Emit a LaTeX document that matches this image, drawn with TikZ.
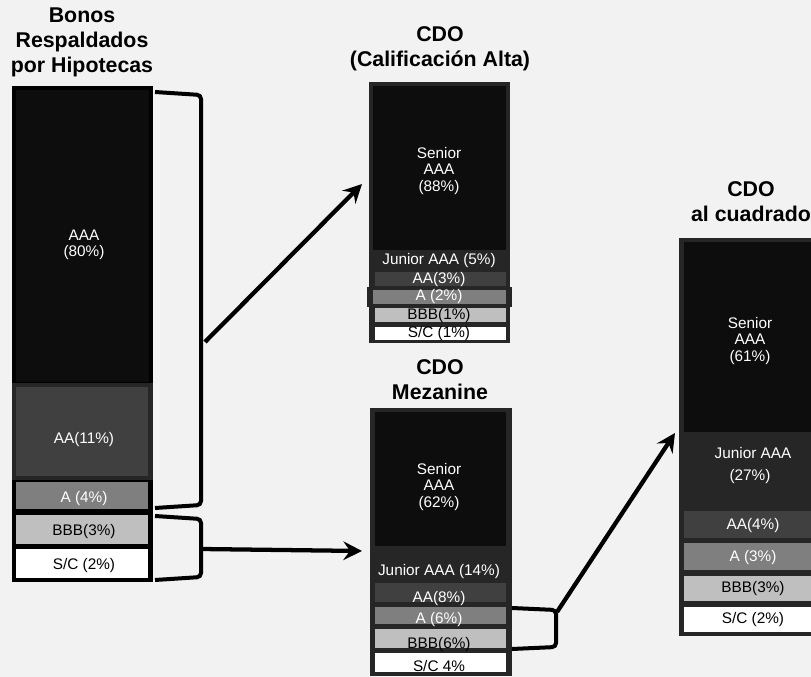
\documentclass[tikz,border=0pt]{standalone}
\usepackage{fontspec}
\setmainfont{Liberation Sans}
\usetikzlibrary{arrows.meta}
\definecolor{fondo}{HTML}{F2F2F2}
\definecolor{marco}{HTML}{262626}
\definecolor{capaAAA}{HTML}{0D0D0D}
\definecolor{capaAA}{HTML}{404040}
\definecolor{capaA}{HTML}{7F7F7F}
\definecolor{capaBBB}{HTML}{BFBFBF}

\begin{document}
\begin{tikzpicture}[x=0.75pt,y=-0.75pt,
	lblw/.style={text=white,font=\fontsize{11.5}{12.4}\selectfont,align=center,inner sep=0pt},
	lblb/.style={lblw,text=black},
	titulo/.style={font=\fontsize{16}{18.75}\bfseries\selectfont,align=center,inner sep=0pt},
	llave/.style={line width=3pt,rounded corners=3pt},
	flecha/.style={line width=3.2pt,-{Stealth[length=14pt,width=14pt,inset=5pt]}}]
	\clip (0,0) rectangle (811,677);
	\fill[fondo] (0,0) rectangle (811,677);
	
	% Bonos respaldados por hipotecas
	\node[titulo] (tBonos) at (82,42) {Bonos\\Respaldados\\por Hipotecas};
	\fill[black] (12,86) rectangle (153,582);
	\fill[capaAAA] (16,90) rectangle (149,382);
	\fill[marco] (12,383) rectangle (153,480);
	\fill[capaAA] (16,387) rectangle (148,476);
	\fill[capaA] (16,482) rectangle (148,509);
	\fill[capaBBB] (16,515) rectangle (148,544);
	\fill[white] (16,549) rectangle (148,578);
	\node[lblw] (bAAA) at (84,245) {AAA\\(80\%)};
	\node[lblw] (bAA) at (84,440) {AA(11\%)};
	\node[lblw] (bA) at (84,499) {A (4\%)};
	\node[lblb] (bBBB) at (84,532) {BBB(3\%)};
	\node[lblb] (bSC) at (84,566) {S/C (2\%)};
	
	\draw[llave] (155,92) -- (201,95) -- (201,505) -- (155,508);
	\draw[llave] (155,516) -- (201,519) -- (201,577) -- (155,580);
	
	% CDO calificacion alta
	\node[titulo] (tAlta) at (440,49) {CDO\\(Calificación Alta)};
	\fill[marco] (369,82) rectangle (510,343);
	\fill[capaAAA] (373,86) rectangle (506,250);
	\fill[capaAA] (375,272) rectangle (506,286);
	\fill[marco] (367,287) rectangle (512,307);
	\fill[capaA] (373,290) rectangle (506,304);
	\fill[capaBBB] (375,308) rectangle (506,322);
	\fill[white] (375,327) rectangle (506,340);
	\node[lblw] (aSen) at (439,171) {Senior\\AAA\\(88\%)};
	\node[lblw] (aJun) at (439,261) {Junior AAA (5\%)};
	\node[lblw] (aAA) at (439,280) {AA(3\%)};
	\node[lblw] (aA) at (439,297) {A (2\%)};
	\node[lblb] (aBBB) at (439,316) {BBB(1\%)};
	\node[lblb] (aSC) at (439,334) {S/C (1\%)};
	
	% CDO mezanine
	\node[titulo] (tMez) at (440,380) {CDO\\Mezanine};
	\fill[marco] (370,408) rectangle (512,676);
	\fill[capaAAA] (375,412) rectangle (506,546);
	\fill[capaAA] (375,583) rectangle (506,602);
	\fill[capaA] (375,607) rectangle (506,624);
	\fill[capaBBB] (375,629) rectangle (506,648);
	\fill[white] (375,653) rectangle (506,672);
	\node[lblw] (mSen) at (439,487) {Senior\\AAA\\(62\%)};
	\node[lblw] (mJun) at (439,572) {Junior AAA (14\%)};
	\node[lblw] (mAA) at (439,599) {AA(8\%)};
	\node[lblw] (mA) at (439,620) {A (6\%)};
	\node[lblb] (mBBB) at (439,645) {BBB(6\%)};
	\node[lblb] (mSC) at (439,666) {S/C 4\%};
	
	\draw[llave] (512,608) -- (556,610) -- (556,647) -- (512,649);
	
	% CDO al cuadrado
	\node[titulo] (tCuad) at (751,202) {CDO\\al cuadrado};
	\fill[marco] (679,238) rectangle (830,636);
	\fill[capaAAA] (684,242) rectangle (830,432);
	\fill[capaAA] (684,511) rectangle (830,538);
	\fill[capaA] (684,543) rectangle (830,570);
	\fill[capaBBB] (684,576) rectangle (830,601);
	\fill[white] (684,607) rectangle (830,632);
	\node[lblw] (cSen) at (750,341) {Senior\\AAA\\(61\%)};
	\node[lblw] (cJun) at (753,453) {Junior AAA};
	\node[lblw] (cJunP) at (750,477) {(27\%)};
	\node[lblw] (cAA) at (753,526) {AA(4\%)};
	\node[lblw] (cA) at (753,558) {A (3\%)};
	\node[lblb] (cBBB) at (753,589) {BBB(3\%)};
	\node[lblb] (cSC) at (753,620) {S/C (2\%)};
	
	% flechas
	\coordinate (llaveA) at (205,342);
	\coordinate (altaIn) at (362,184);
	\coordinate (llaveB) at (201,549);
	\coordinate (mezIn) at (362,551);
	\coordinate (llaveC) at (557,612);
	\coordinate (cuadIn) at (675,433);
	\draw[flecha] (llaveA) -- (altaIn);
	\draw[flecha] (llaveB) -- (mezIn);
	\draw[flecha] (llaveC) -- (cuadIn);
\end{tikzpicture}
\end{document}
